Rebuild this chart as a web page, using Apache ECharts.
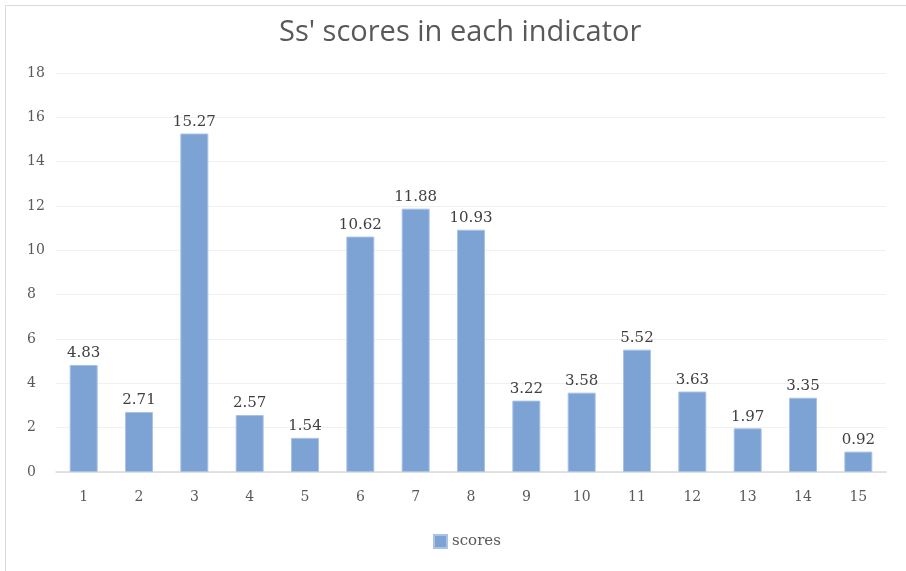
<!DOCTYPE html>
<html><head><meta charset="utf-8">
<script src="https://cdn.jsdelivr.net/npm/echarts@6/dist/echarts.min.js"></script>
<style>html,body{margin:0;padding:0;background:#fff}#c{width:906px;height:571px}</style>
</head><body><div id="c"></div>
<script>
var categories = ['1','2','3','4','5','6','7','8','9','10','11','12','13','14','15'];
var scores = [4.83,2.71,15.27,2.57,1.54,10.62,11.88,10.93,3.22,3.58,5.52,3.63,1.97,3.35,0.92];
var yTicks = {min:0, max:18, interval:2};

var chart = echarts.init(document.getElementById('c'));
chart.setOption({
  animation:false,
  graphic:[{type:'rect',shape:{x:5.5,y:5.5,width:910,height:580},style:{fill:'none',stroke:'#d9d9d9',lineWidth:1},silent:true}],
  title:{text:"Ss' scores in each indicator",left:274,top:13,textStyle:{fontFamily:'Open Sans',fontWeight:'normal',fontSize:29,color:'#595959'}},
  grid:{left:56,right:20,top:73,bottom:99,containLabel:false},
  legend:{top:534,left:433,padding:0,itemWidth:13,itemHeight:13,itemGap:4,icon:'rect',data:['scores'],textStyle:{fontFamily:'DejaVu Serif',fontSize:15,color:'#595959'}},
  xAxis:{type:'category',data:categories,axisTick:{show:false},axisLine:{lineStyle:{color:'#d9d9d9',width:1.5}},axisLabel:{fontFamily:'DejaVu Serif',fontSize:14,color:'#595959',margin:18}},
  yAxis:{type:'value',min:yTicks.min,max:yTicks.max,interval:yTicks.interval,axisLine:{show:false},axisTick:{show:false},splitLine:{lineStyle:{color:'#f0f0f0'}},axisLabel:{fontFamily:'DejaVu Serif',fontSize:14,color:'#595959',margin:29,align:'left'}},
  series:[{name:'scores',type:'bar',data:scores,barWidth:28,itemStyle:{color:'#7ca3d3',borderColor:'#a9c3e5',borderWidth:1},label:{show:true,position:'top',distance:4,fontFamily:'DejaVu Serif',fontSize:15,color:'#404040'}}]
});
</script></body></html>
